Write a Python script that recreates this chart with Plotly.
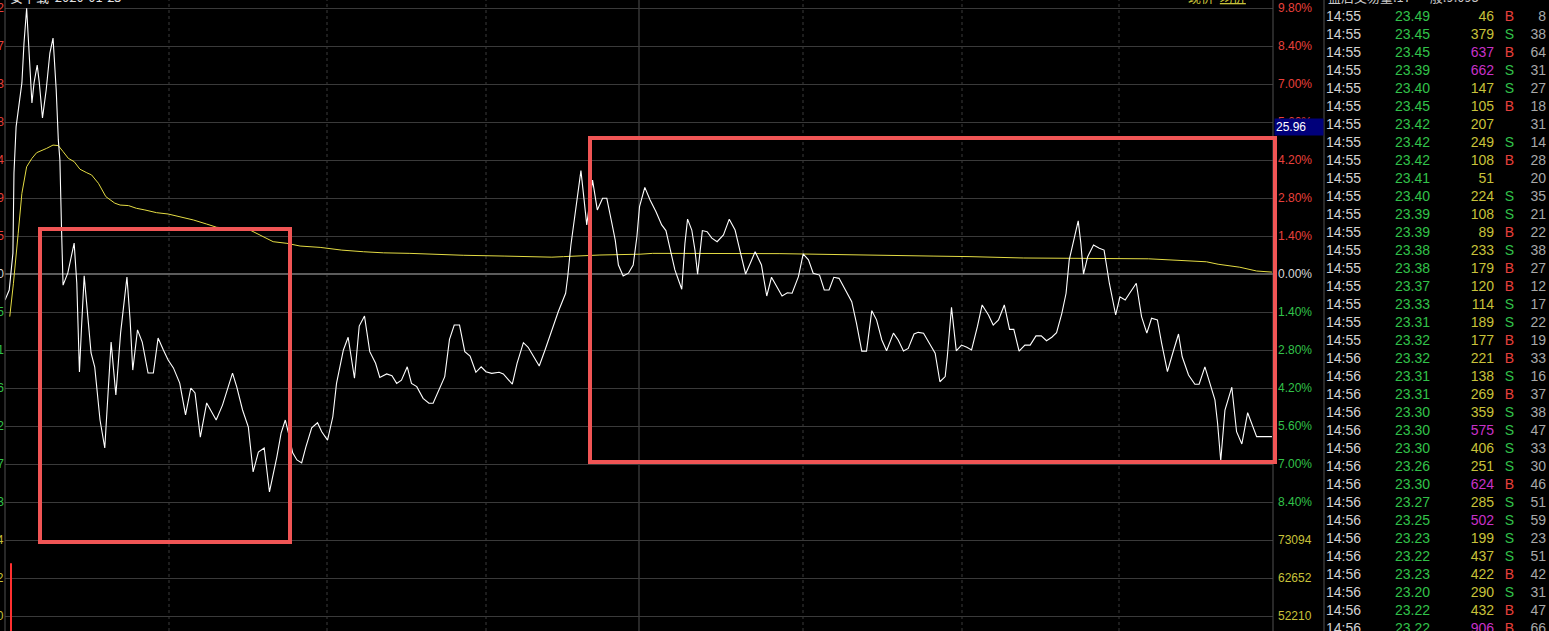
import plotly.graph_objects as go

# canvas / pixel helpers
W, H = 1549, 631
PLOT_L, PLOT_R = 5, 1273
ZERO_Y, STEP_PX, STEP = 274, 38, 1.4

prev_close = 24.70

# intraday price line: minutes since 9:30, % change vs previous close
price_t = [
    0, 0.8, 1.5, 1.7, 2.1, 2.5, 3.2, 3.6, 4.1, 4.4,
    5.1, 5.5, 6.1, 6.5, 7.1, 7.8, 8.5, 9.1, 9.7, 10.1,
    10.4, 10.7, 11.0, 11.9, 13.1, 13.6, 14.1, 14.5, 15.0, 15.8,
    16.3, 17.0, 18.0, 18.9, 19.4, 20.1, 21.0, 21.9, 23.1, 23.7,
    24.2, 25.1, 26.0, 27.1, 28.1, 29.0, 30.0, 30.9, 31.9, 33.1,
    34.2, 35.2, 36.0, 37.0, 38.2, 39.0, 40.0, 41.2, 43.1, 43.9,
    45.0, 46.1, 47.0, 48.0, 49.1, 50.1, 51.5, 52.3, 53.1, 53.7,
    54.5, 55.3, 56.2, 57.0, 58.1, 59.2, 60.0, 61.1, 62.1, 62.8,
    64.1, 65.0, 66.2, 67.1, 68.1, 69.1, 70.2, 71.0, 72.3, 73.3,
    74.2, 75.1, 76.2, 77.0, 78.0, 79.2, 80.3, 81.1, 82.1, 83.3,
    84.2, 85.1, 86.1, 87.1, 88.1, 89.2, 90.2, 91.1, 92.2, 93.6,
    94.4, 95.3, 96.1, 97.0, 98.2, 99.1, 100.1, 101.2, 102.3, 103.6,
    104.8, 106.2, 106.6, 107.2, 108.0, 108.6, 109.1, 109.7, 110.2, 111.3,
    112.2, 113.2, 114.0, 114.9, 115.6, 116.2, 117.1, 118.1, 119.0, 119.7,
    120.2, 121.2, 122.2, 123.3, 124.4, 125.2, 126.0, 126.9, 128.2, 128.8,
    129.3, 130.1, 130.7, 131.2, 131.7, 132.1, 133.0, 133.9, 134.9, 136.1,
    137.2, 138.3, 139.2, 140.3, 141.3, 142.1, 143.3, 144.3, 145.2, 146.2,
    147.2, 148.2, 149.1, 150.3, 151.2, 152.2, 153.1, 154.3, 155.2, 156.1,
    157.0, 158.0, 159.1, 160.4, 161.3, 162.3, 163.2, 164.2, 165.1, 166.1,
    167.0, 168.3, 169.2, 170.2, 171.1, 172.2, 173.0, 174.0, 175.1, 176.2,
    177.1, 178.1, 178.5, 179.3, 180.2, 181.2, 182.2, 183.1, 184.2, 185.1,
    186.3, 187.2, 188.2, 189.3, 190.3, 191.1, 192.1, 193.2, 194.2, 195.3,
    196.3, 197.3, 198.3, 199.2, 200.2, 201.0, 201.6, 202.4, 203.3, 203.8,
    204.3, 205.1, 206.2, 207.3, 208.2, 209.2, 210.4, 211.2, 212.2, 213.1,
    214.3, 215.3, 216.3, 217.2, 218.3, 219.1, 220.2, 221.2, 222.3, 223.0,
    224.2, 225.4, 226.2, 227.3, 228.3, 229.2, 229.7, 230.3, 231.1, 232.4,
    233.3, 234.3, 235.4, 236.2, 237.1, 240.0,
]
price_pct = [
    -0.96, -0.59, 0.77, 3.72, 5.42, 6.04, 7.04, 8.51, 9.79, 8.73,
    6.30, 7.04, 7.70, 7.04, 5.75, 6.78, 8.14, 8.69, 6.78, 4.94,
    4.20, 1.73, -0.41, 0.04, 1.14, -0.33, -3.61, -1.95, -0.07, -1.81,
    -2.91, -3.43, -5.38, -6.41, -4.90, -2.51, -4.46, -2.17, -0.11, -1.69,
    -3.54, -2.06, -2.51, -3.65, -3.65, -2.36, -2.80, -3.17, -3.46, -4.02,
    -5.19, -4.20, -4.38, -6.01, -4.75, -5.01, -5.38, -4.83, -3.65, -4.16,
    -5.01, -5.64, -7.29, -6.56, -6.41, -8.03, -6.74, -5.86, -5.38, -5.86,
    -6.59, -6.85, -6.96, -6.37, -5.67, -5.48, -5.81, -6.12, -5.26, -4.03,
    -2.80, -2.33, -3.84, -1.92, -1.55, -2.86, -3.29, -3.81, -3.68, -3.75,
    -4.03, -3.91, -3.42, -4.03, -4.15, -4.58, -4.76, -4.76, -4.34, -3.78,
    -2.41, -1.88, -1.88, -2.86, -3.02, -3.62, -3.42, -3.60, -3.66, -3.62,
    -3.68, -3.88, -4.06, -3.29, -2.53, -2.70, -3.05, -3.39, -2.80, -2.06,
    -1.39, -0.71, -0.10, 1.07, 2.24, 3.09, 3.81, 2.73, 1.81, 3.46,
    2.36, 2.79, 2.79, 1.93, 1.25, 0.33, -0.07, 0.03, 0.33, 1.37,
    2.48, 3.19, 2.73, 2.30, 1.81, 1.60, 0.95, 0.15, -0.56, 1.13,
    2.02, 1.62, 0.88, -0.01, 0.88, 1.60, 1.56, 1.32, 1.19, 1.44,
    2.02, 1.62, 0.88, 0.00, 0.45, 0.82, 0.33, -0.81, -0.12, -0.47,
    -0.81, -0.69, -0.71, -0.10, 0.74, 0.52, 0.03, -0.04, -0.59, -0.59,
    -0.12, -0.16, -0.53, -1.02, -1.82, -2.84, -2.84, -1.35, -1.69, -2.43,
    -2.83, -2.18, -2.43, -2.84, -2.74, -2.21, -2.15, -2.18, -2.55, -2.92,
    -3.97, -3.78, -3.05, -1.23, -2.83, -2.62, -2.70, -2.80, -1.94, -1.14,
    -1.51, -1.88, -1.69, -1.14, -2.04, -2.04, -2.84, -2.62, -2.62, -2.28,
    -2.28, -2.46, -2.33, -2.16, -1.45, -0.71, 0.52, 1.25, 1.96, 1.13,
    0.00, 0.64, 1.07, 0.95, 0.88, -0.34, -1.51, -0.84, -0.96, -0.69,
    -0.34, -1.57, -2.18, -1.63, -1.69, -2.55, -3.60, -2.92, -2.21, -3.05,
    -3.72, -4.06, -4.06, -3.42, -4.03, -4.64, -5.50, -6.88, -5.01, -4.17,
    -5.81, -6.26, -5.11, -5.50, -5.99, -5.99,
]

# average price line (yellow)
avg_t = [
    0.9, 1.6, 2.5, 3.2, 4.1, 5.1, 6.0, 7.0, 7.9, 9.1,
    10.1, 11.0, 12.0, 13.1, 14.2, 15.5, 16.4, 17.7, 19.1, 20.8,
    21.8, 23.4, 24.9, 26.5, 28.7, 30.9, 33.1, 35.7, 38.2, 40.1,
    46.4, 48.9, 50.8, 53.4, 55.9, 59.7, 63.8, 67.9, 71.7, 76.7,
    80.8, 86.8, 94.7, 103.6, 105.8, 109.5, 112.7, 120.3, 122.7, 146.8,
    164.8, 175.8, 182.8, 192.9, 216.6, 221.0, 227.6, 229.8, 233.9, 237.1,
    240.0,
]
avg_pct = [
    -1.57, -0.34, 1.50, 2.97, 3.95, 4.26, 4.47, 4.54, 4.63, 4.75,
    4.73, 4.51, 4.26, 4.14, 3.86, 3.73, 3.65, 3.34, 2.85, 2.61,
    2.54, 2.52, 2.42, 2.36, 2.26, 2.21, 2.11, 1.99, 1.84, 1.72,
    1.62, 1.37, 1.19, 1.13, 1.03, 0.98, 0.88, 0.82, 0.78, 0.76,
    0.73, 0.69, 0.66, 0.62, 0.64, 0.67, 0.70, 0.73, 0.76, 0.75,
    0.71, 0.66, 0.64, 0.59, 0.56, 0.52, 0.45, 0.36, 0.25, 0.11,
    0.07,
]
assert len(price_t) == len(price_pct) and len(avg_t) == len(avg_pct)

# first volume bar (rest of the volume pane is below the visible area)
vol_t = [1.1]
vol_v = [66700]

pct_levels = [9.8, 8.4, 7.0, 5.6, 4.2, 2.8, 1.4, 0.0, -1.4, -2.8, -4.2, -5.6, -7.0, -8.4]
vol_levels = [73094, 62652, 52210]
cursor_price = "25.96"

# tick-by-tick table
tick_time = ["14:55"] * 19 + ["14:56"] * 16
tick_price = [23.49, 23.45, 23.45, 23.39, 23.40, 23.45, 23.42, 23.42, 23.42, 23.41,
              23.40, 23.39, 23.39, 23.38, 23.38, 23.37, 23.33, 23.31, 23.32, 23.32,
              23.31, 23.31, 23.30, 23.30, 23.30, 23.26, 23.30, 23.27, 23.25, 23.23,
              23.22, 23.23, 23.20, 23.22, 23.22]
tick_vol = [46, 379, 637, 662, 147, 105, 207, 249, 108, 51,
            224, 108, 89, 233, 179, 120, 114, 189, 177, 221,
            138, 269, 359, 575, 406, 251, 624, 285, 502, 199,
            437, 422, 290, 432, 906]
tick_side = ["B", "S", "B", "S", "S", "B", "", "S", "B", "",
             "S", "S", "B", "S", "B", "B", "S", "S", "B", "B",
             "S", "B", "S", "S", "S", "S", "B", "S", "S", "S",
             "S", "B", "S", "B", "B"]
tick_count = [8, 38, 64, 31, 27, 18, 31, 14, 28, 20,
              35, 21, 22, 38, 27, 12, 17, 22, 19, 33,
              16, 37, 38, 47, 33, 30, 46, 51, 59, 23,
              51, 42, 31, 47, 66]

RED, GREEN, WHITE, OLIVE = "#e8403c", "#32c24a", "#d8d8d8", "#c8c23a"
PURPLE, GRID = "#c832c8", "#3a3a3a"
FONT = "Liberation Sans"


def px_x(px):
    return px / W


def px_y(py):
    return 1 - py / H


def pct_to_px(v):
    return ZERO_Y - v / STEP * STEP_PX


y_top = (ZERO_Y - 0) * STEP / STEP_PX
y_bot = (ZERO_Y - H) * STEP / STEP_PX
vol_per_px = (vol_levels[0] - vol_levels[1]) / STEP_PX
vol_y0 = pct_to_px(-9.8)
vol_top = vol_levels[0] + vol_y0 * vol_per_px
vol_bot = vol_levels[0] - (H - vol_y0) * vol_per_px

fig = go.Figure()

fig.add_trace(go.Bar(x=vol_t, y=vol_v, yaxis="y2", width=0.25,
                     marker=dict(color="#ff3030", line=dict(width=0))))
fig.add_trace(go.Scatter(x=avg_t, y=avg_pct, mode="lines",
                         line=dict(color="#e4dc44", width=1)))
fig.add_trace(go.Scatter(x=price_t, y=price_pct, mode="lines",
                         line=dict(color="#ffffff", width=1.1)))

# table as text on its own axes (row index downwards)
rows = list(range(len(tick_time)))
row0, pitch = 17.2, 18
tab = dict(xaxis="x3", yaxis="y3", mode="text", hoverinfo="skip",
           cliponaxis=False)
fig.add_trace(go.Scatter(x=[1326] * len(rows), y=rows, text=tick_time,
                         textposition="middle right",
                         textfont=dict(family=FONT, size=14, color="#d2d2d2"), **tab))
fig.add_trace(go.Scatter(x=[1430] * len(rows), y=rows,
                         text=[f"{p:.2f}" for p in tick_price],
                         textposition="middle left",
                         textfont=dict(family=FONT, size=14,
                                       color=[GREEN if p < prev_close else RED for p in tick_price]),
                         **tab))
fig.add_trace(go.Scatter(x=[1494] * len(rows), y=rows, text=[str(v) for v in tick_vol],
                         textposition="middle left",
                         textfont=dict(family=FONT, size=14,
                                       color=[PURPLE if v >= 500 else OLIVE for v in tick_vol]),
                         **tab))
fig.add_trace(go.Scatter(x=[1509.5] * len(rows), y=rows, text=tick_side,
                         textposition="middle center",
                         textfont=dict(family=FONT, size=14,
                                       color=[RED if s == "B" else GREEN for s in tick_side]),
                         **tab))
fig.add_trace(go.Scatter(x=[1546] * len(rows), y=rows, text=[str(c) for c in tick_count],
                         textposition="middle left",
                         textfont=dict(family=FONT, size=14, color="#a8a8a8"), **tab))

grid_levels = [round(v, 2) for v in pct_levels] + [round(-9.8 - STEP * k, 2) for k in range(3)]

annotations = []


def label(px, py, text, color, anchor, size=12, family=FONT, **kw):
    annotations.append(dict(x=px_x(px), y=px_y(py), xref="paper", yref="paper",
                            text=text, showarrow=False, xanchor=anchor, yanchor="middle",
                            font=dict(family=family, size=size, color=color), **kw))


# right-hand % / volume scale and left-hand price scale (mostly clipped)
for v in pct_levels:
    col = RED if v > 0 else (WHITE if v == 0 else GREEN)
    label(1276, pct_to_px(v), f"{abs(v):.2f}%", col, "left")
    label(6, pct_to_px(v), f"{prev_close * (1 + v / 100):.2f}", col, "right")
for k, lv in enumerate(vol_levels):
    yy = pct_to_px(-9.8 - STEP * k)
    label(1276, yy, str(lv), OLIVE, "left")
    label(6, yy, str(lv), OLIVE, "right")

# cursor price tag
label(1274, 127, cursor_price, "#ffffff", "left", width=46, height=14, align="left",
      bgcolor="#00007a")

# header texts (cut off at the top edge)
CJK = "Noto Sans CJK SC"
label(8, -3, "安下载  2020-01-23", "#e0e0e0", "left", size=13, family=CJK)
label(1186, -3, "现价  <u>均价</u>", OLIVE, "left", size=13, family=CJK)
label(1326, -3, "盘后交易量:17  一般:9.095", "#c8c8c8", "left", size=13, family=CJK)

shapes = []
# vertical half-hour lines
for px in [169, 327, 486, 803, 962, 1119]:
    shapes.append(dict(type="line", xref="paper", yref="paper", x0=px_x(px), x1=px_x(px),
                       y0=0, y1=1, line=dict(color="#3a3a3a", width=1, dash="dot"), layer="below"))
shapes.append(dict(type="line", xref="paper", yref="paper", x0=px_x(639), x1=px_x(639),
                   y0=0, y1=1, line=dict(color="#505050", width=1), layer="below"))
# frame lines
for px in [5, 1273, 1324]:
    shapes.append(dict(type="line", xref="paper", yref="paper", x0=px_x(px), x1=px_x(px),
                       y0=0, y1=1, line=dict(color="#505050", width=1)))
# highlight boxes
for x0, y0, x1, y1 in [(40, 229, 290, 542), (590, 138, 1275, 462)]:
    shapes.append(dict(type="rect", xref="paper", yref="paper",
                       x0=px_x(x0), x1=px_x(x1), y0=px_y(y0), y1=px_y(y1),
                       line=dict(color="#f05555", width=4), layer="above"))

fig.update_layout(
    width=W, height=H,
    margin=dict(l=0, r=0, t=0, b=0),
    paper_bgcolor="#000000", plot_bgcolor="#000000",
    showlegend=False, hovermode=False,
    xaxis=dict(domain=[PLOT_L / W, PLOT_R / W], range=[0, 240.2], showgrid=False,
               zeroline=False, showticklabels=False, fixedrange=True),
    yaxis=dict(range=[y_bot, y_top], tickvals=grid_levels, showticklabels=False,
               gridcolor=GRID, gridwidth=1, zeroline=True, zerolinecolor="#5c5c5c",
               zerolinewidth=2, fixedrange=True),
    yaxis2=dict(range=[vol_bot, vol_top], overlaying="y", visible=False, fixedrange=True),
    xaxis3=dict(domain=[1324 / W, 1], range=[1324, W], anchor="y3", visible=False,
                fixedrange=True),
    yaxis3=dict(domain=[0, 1], range=[(H - row0) / pitch, -row0 / pitch], anchor="x3",
                visible=False, fixedrange=True),
    annotations=annotations,
    shapes=shapes,
)

# the page's default body margin would shift the whole terminal view
fig.write_html("out.html", config={"displayModeBar": False},
               post_script="document.body.style.margin='0';document.body.style.background='#000';")
